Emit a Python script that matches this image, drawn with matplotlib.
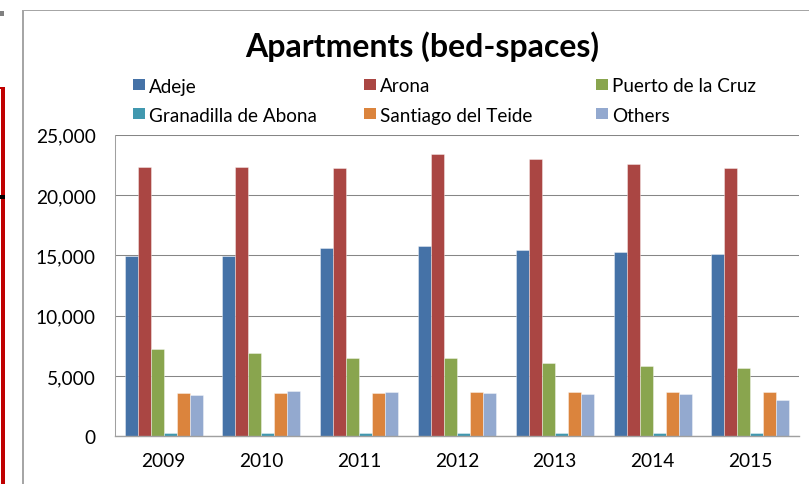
import matplotlib
matplotlib.use("Agg")
import matplotlib.pyplot as plt
import matplotlib.ticker as mticker
import numpy as np
from matplotlib.patches import Rectangle

plt.rcParams["font.family"] = ["Lato", "DejaVu Sans"]

# ── Data ─────────────────────────────────────────────────────────────
YEARS = ["2009", "2010", "2011", "2012", "2013", "2014", "2015"]
SERIES = ["Adeje", "Arona", "Puerto de la Cruz",
          "Granadilla de Abona", "Santiago del Teide", "Others"]
ADEJE = [14950, 14950, 15600, 15750, 15450, 15250, 15100]
ARONA = [22300, 22350, 22250, 23400, 23000, 22600, 22250]
PUERTO = [7200, 6900, 6450, 6450, 6050, 5850, 5650]
GRANADILLA = [300, 250, 250, 250, 250, 250, 250]
SANTIAGO = [3550, 3550, 3600, 3650, 3650, 3650, 3650]
OTHERS = [3450, 3750, 3700, 3550, 3500, 3500, 3050]
VALUES = [ADEJE, ARONA, PUERTO, GRANADILLA, SANTIAGO, OTHERS]

COLORS = ["#4572A7", "#AA4643", "#89A54E", "#4198AF", "#DB843D", "#93A9CF"]

W, H = 809, 485


def fx(px):
    return px / W


def fy(py):
    return 1 - py / H


def main():
    fig = plt.figure(figsize=(W / 100, H / 100), dpi=100)
    ax = fig.add_axes([fx(114.7), fy(437.3), fx(799.3) - fx(114.7), fy(135.7) - fy(437.3)])

    x = np.arange(len(YEARS))
    bw = 0.133
    for i, (vals, col) in enumerate(zip(VALUES, COLORS)):
        ax.bar(x + (i - 2.5) * bw, vals, width=bw, color=col,
               edgecolor=(1, 1, 1, 0.45), linewidth=0.6, zorder=3)

    ax.set_xlim(-0.5, len(YEARS) - 0.5)
    ax.set_ylim(0, 25000)
    ax.set_yticks(np.arange(0, 25001, 5000))
    ax.yaxis.set_major_formatter(mticker.StrMethodFormatter("{x:,.0f}"))
    ax.set_xticks(x)
    ax.set_xticklabels(YEARS)
    ax.tick_params(axis="both", length=0, labelsize=13.8, colors="black")
    ax.tick_params(axis="y", pad=13.5)
    ax.tick_params(axis="x", pad=11.5)

    ax.set_axisbelow(True)
    ax.grid(axis="y", color="#868686", linewidth=0.75, zorder=0)
    for side in ("top", "right"):
        ax.spines[side].set_visible(False)
    ax.spines["left"].set_color("#A0A0A0")
    ax.spines["left"].set_linewidth(0.75)
    ax.spines["bottom"].set_color("#A0A0A0")
    ax.spines["bottom"].set_linewidth(1.0)
    ax.spines["bottom"].set_zorder(4)

    # title
    fig.text(fx(422), fy(56.7), "Apartments (bed-spaces)", ha="center",
             va="baseline", fontsize=23, fontweight="bold")

    # legend, three columns laid out row by row
    col_x = [133, 364, 596]
    row_base = [92.5, 121.7]
    for k, (name, col) in enumerate(zip(SERIES, COLORS)):
        r, c = divmod(k, 3)
        fig.add_artist(Rectangle((fx(col_x[c]), fy(row_base[r] - 1.5)),
                                 11.5 / W, 11.5 / H, transform=fig.transFigure,
                                 facecolor=col, edgecolor="none"))
        fig.text(fx(col_x[c] + 16), fy(row_base[r]), name, ha="left",
                 va="baseline", fontsize=13.6)

    # outer chart border and page fragments
    fig.add_artist(Rectangle((fx(22.3), 0), 2 / W, fy(10.7), transform=fig.transFigure,
                             facecolor="#A6A6A6", edgecolor="none"))
    fig.add_artist(Rectangle((fx(22.3), fy(12)), 1 - fx(22.3), 1.3 / H,
                             transform=fig.transFigure, facecolor="#A6A6A6", edgecolor="none"))
    fig.add_artist(Rectangle((fx(1), 0), 4 / W, fy(88), transform=fig.transFigure,
                             facecolor="#C00000", edgecolor="none"))
    fig.add_artist(Rectangle((0, fy(90)), 5 / W, 2 / H, transform=fig.transFigure,
                             facecolor="#C00000", edgecolor="none"))
    fig.add_artist(Rectangle((0, fy(200)), 5 / W, 4 / H, transform=fig.transFigure,
                             facecolor="black", edgecolor="none"))
    fig.add_artist(Rectangle((0, fy(16.5)), 4 / W, 4.3 / H, transform=fig.transFigure,
                             facecolor="#808080", edgecolor="none"))

    fig.savefig("out.png", dpi=100, facecolor="white")
    plt.close(fig)


if __name__ == "__main__":
    main()
